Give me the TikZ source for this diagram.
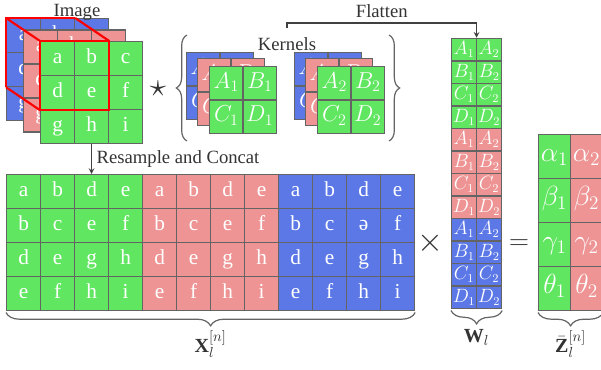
\documentclass[tikz,border=0pt]{standalone}
\usepackage{fontspec}
\setmainfont{Liberation Serif}
\usetikzlibrary{positioning, fit, arrows, decorations.pathreplacing}

\definecolor{cellgreen}{RGB}{96,230,96}
\definecolor{cellpink}{RGB}{238,148,148}
\definecolor{cellblue}{RGB}{92,120,230}
\definecolor{linegray}{RGB}{100,100,100}

\begin{document}
\begin{tikzpicture}[x=0.75pt, y=-0.75pt, >=stealth]
        \tikzstyle{cell} = [rectangle, draw=linegray, line width=0.9pt, inner sep=0pt, anchor=north west, minimum width=25.5pt, minimum height=25.5pt, text height=0.72em, text depth=0pt, text=white, font=\fontsize{16}{16}\selectfont]
        \tikzstyle{kcell} = [cell, minimum width=25.1pt, minimum height=25.1pt, font=\fontsize{17}{17}\selectfont]
        \tikzstyle{wcell} = [cell, minimum width=18.75pt, minimum height=16.9pt, font=\fontsize{13.5}{13.5}\selectfont]
        \tikzstyle{zcell} = [cell, minimum width=24pt, minimum height=33pt, font=\fontsize{20}{20}\selectfont]
        \tikzstyle{lbl} = [font=\fontsize{14}{14}\selectfont, text=black!80]
        \tikzstyle{op} = [font=\fontsize{22}{22}\selectfont, text=black!80]
        \tikzstyle{brc} = [decorate, draw=linegray, line width=0.9pt]
        \tikzstyle{conn} = [draw=black!75, line width=0.9pt]
        \tikzstyle{hilite} = [draw=red, line width=1.6pt]

        \useasboundingbox (0,0) rectangle (601,370);

        % input image, three channels
        \foreach \col/\dx/\dy/\lay in {cellblue/-34/-23/b, cellpink/-17/-11.5/p, cellgreen/0/0/g}
            \foreach \t [count=\i from 0] in {a,...,i} {
                \pgfmathtruncatemacro\r{\i/3}
                \pgfmathtruncatemacro\c{mod(\i,3)}
                \node [cell, fill=\col] (img\lay-\i) at ({40+\dx+34*\c}, {41+\dy+34*\r}) {\t};
            }
        \node [lbl] (image) at (77,12) {Image};

        \draw [hilite] (imgg-0.north west) rectangle (imgg-4.south east);
        \draw [hilite] (imgb-3.south west) -- (imgb-0.north west) -- (imgb-1.north east);
        \draw [hilite] (imgb-0.north west) -- (imgg-0.north west) (imgb-1.north east) -- (imgg-1.north east) (imgb-3.south west) -- (imgg-3.south west);

        \node [op, font=\fontsize{30}{30}\selectfont] (star) at (158,89) {$\star$};

        % kernels
        \foreach \k/\kx in {1/209, 2/317}
            \foreach \col/\dx/\dy/\lay in {cellblue/-23/-14/b, cellpink/-12/-8/p, cellgreen/0/0/g}
                \foreach \t [count=\i from 0] in {A,B,C,D} {
                    \pgfmathtruncatemacro\r{\i/2}
                    \pgfmathtruncatemacro\c{mod(\i,2)}
                    \node [kcell, fill=\col] (k\k\lay-\i) at ({\kx+\dx+33.5*\c}, {66+\dy+33.5*\r}) {$\t_\k$};
                }
        \node [lbl] (kern) at (287,44) {Kernels};
        \draw [brc, decoration={brace, amplitude=8pt}] (187,141) -- (187,35);
        \draw [brc, decoration={brace, amplitude=8pt}] (389,35) -- (389,141);

        % resampled input matrix
        \foreach \col [count=\b from 0] in {cellgreen, cellpink, cellblue}
            \foreach \row [count=\r from 0] in {{a,b,d,e},{b,c,e,f},{d,e,g,h},{e,f,h,i}}
                \foreach \t [count=\c from 0] in \row {
                    \ifnum\b\r\c=212 \def\t{\rotatebox[origin=c]{180}{e}}\fi
                    \node [cell, fill=\col] (x-\b-\r-\c) at ({6+34*(4*\b+\c)}, {174+34*\r}) {\t};
                }

        \draw [conn, ->] (imgg-7.south) -- node[right, lbl] {Resample and Concat} (x-0-0-2.north);

        % flattened weights
        \foreach \col [count=\b from 0] in {cellgreen, cellpink, cellblue}
            \foreach \t [count=\i from 0] in {A,B,C,D}
                \foreach \c in {1,2}
                    \node [wcell, fill=\col] (w-\b-\i-\c) at ({451+25*(\c-1)}, {38+22.5*(4*\b+\i)}) {$\t_\c$};
        \node [fit=(w-0-0-1) (w-2-3-2), inner sep=0pt] (wmat) {};

        \coordinate (fstart) at (287,28);
        \draw [conn, ->] (fstart) -- ++(0,-5) -| node[pos=0.25, above, lbl] {Flatten} (wmat.north);

        % output
        \foreach \g [count=\r from 0] in {\alpha,\beta,\gamma,\theta}
            \foreach \c/\col in {1/cellgreen, 2/cellpink}
                \node [zcell, fill=\col] (z-\r-\c) at ({538+32*(\c-1)}, {134+44*\r}) {$\g_\c$};

        \node [op, font=\fontsize{24}{24}\selectfont] (times) at (430,243) {$\times$};
        \node [op, font=\fontsize{20}{20}\selectfont] (eq) at (519,245) {$=$};

        \draw [brc, decoration={brace, amplitude=10pt}] ([yshift=-1pt]x-2-3-3.south east) -- node[below=10pt, op, font=\fontsize{15}{15}\selectfont] {$\mathbf{X}_l^{[n]}$} ([yshift=-1pt]x-0-3-0.south west);
        \draw [brc, decoration={brace, amplitude=10pt}] ([yshift=-1pt]w-2-3-2.south east) -- node[below=10pt, op, font=\fontsize{15}{15}\selectfont] {$\mathbf{W}_l$} ([yshift=-1pt]w-2-3-1.south west);
        \draw [brc, decoration={brace, amplitude=10pt}] ([yshift=-1pt]z-3-2.south east) -- node[below=10pt, op, font=\fontsize{15}{15}\selectfont] {$\bar{\mathbf{Z}}_l^{[n]}$} ([yshift=-1pt]z-3-1.south west);

    \end{tikzpicture}
\end{document}
